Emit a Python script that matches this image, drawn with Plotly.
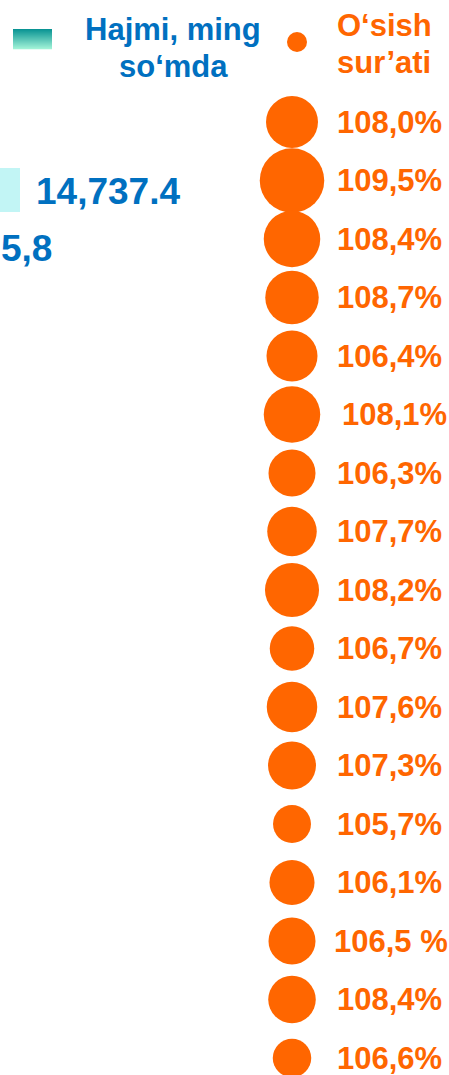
import plotly.graph_objects as go

# ---------------- data ----------------
growth_labels = ["108,0%", "109,5%", "108,4%", "108,7%", "106,4%", "108,1%",
                 "106,3%", "107,7%", "108,2%", "106,7%", "107,6%", "107,3%",
                 "105,7%", "106,1%", "106,5 %", "108,4%", "106,6%"]
growth_pct = [108.0, 109.5, 108.4, 108.7, 106.4, 108.1, 106.3, 107.7, 108.2,
              106.7, 107.6, 107.3, 105.7, 106.1, 106.5, 108.4, 106.6]
# relative volume encoded by bubble area
volume_index = [27.0, 41.6, 31.9, 28.6, 26.0, 31.9, 22.1, 24.5, 29.2,
                19.8, 25.5, 23.0, 14.4, 20.3, 22.1, 22.6, 14.8]
bar_value = [14737.4]
bar_label = ["14,737.4"]
partial_label = "5,8"
legend_volume = "Hajmi, ming"
legend_volume2 = "so‘mda"
legend_growth = "O‘sish"
legend_growth2 = "sur’ati"

# ---------------- style ----------------
ORANGE = "#FF6600"
BLUE = "#0070C0"
FONT = "Liberation Sans, Arial, sans-serif"
W, H = 449, 1075
ROW0_PX, ROW_PX = 122, 58.5          # pixel centre of first row, row pitch
BUBBLE_X = 292
LABEL_X = 335
label_nudge = {5: 5, 14: -3}        # small horizontal offsets seen in the source

rows = list(range(len(growth_labels)))
y_top = -ROW0_PX / ROW_PX
y_bot = y_top + H / ROW_PX


def row_of(px):
    return (px - ROW0_PX) / ROW_PX


def py(px):  # pixel -> paper
    return 1 - px / H


fig = go.Figure()

# bubbles
fig.add_trace(go.Scatter(
    x=[BUBBLE_X] * len(rows), y=rows, mode="markers",
    marker=dict(size=volume_index, sizemode="area", sizeref=0.02,
                color=ORANGE, line=dict(width=0), opacity=1),
    customdata=growth_pct, hoverinfo="skip", showlegend=False,
    cliponaxis=False))

# cropped bar of the left chart (value end at ~20 px)
px_per_unit = 1 / 100.0
x2_lo = bar_value[0] - 20 / px_per_unit
x2_hi = x2_lo + W / px_per_unit
fig.add_trace(go.Bar(
    x=bar_value, y=[row_of(190)], orientation="h", width=44 / ROW_PX,
    marker=dict(color="#C2F5F5", line=dict(width=0)),
    xaxis="x2", yaxis="y", showlegend=False, hoverinfo="skip"))

# growth labels
for r, lab in zip(rows, growth_labels):
    fig.add_annotation(x=LABEL_X, y=r, xref="x", yref="y", text=lab,
                       xshift=label_nudge.get(r, 0),
                       showarrow=False, xanchor="left", yanchor="middle",
                       font=dict(family=FONT, size=31, color=ORANGE, weight="bold"))

# bar value label and partial label
fig.add_annotation(x=34, y=py(191), xref="x", yref="paper", text=bar_label[0],
                   showarrow=False, xanchor="left", yanchor="middle",
                   font=dict(family=FONT, size=37, color=BLUE, weight="bold"))
fig.add_annotation(x=-0.003, y=py(248), xref="paper", yref="paper", text=partial_label,
                   showarrow=False, xanchor="left", yanchor="middle",
                   font=dict(family=FONT, size=37, color=BLUE, weight="bold"))

# legend: teal gradient rectangle (top dark teal -> bottom pale mint)
top_rgb, bot_rgb = (10, 148, 148), (160, 242, 214)
n_strips = 20
y0, y1 = 29, 49
step = (y1 - y0) / n_strips
for i in range(n_strips):
    t = i / (n_strips - 1)
    c = tuple(round(a + (b - a) * t) for a, b in zip(top_rgb, bot_rgb))
    fig.add_shape(type="rect", xref="x", yref="paper", x0=13, x1=52,
                  y0=py(y0 + i * step), y1=py(y0 + (i + 1) * step + 0.3),
                  fillcolor="rgb(%d,%d,%d)" % c, line=dict(width=0), layer="above")
fig.add_annotation(x=173, y=py(29), xref="x", yref="paper", text=legend_volume,
                   showarrow=False, xanchor="center", yanchor="middle",
                   font=dict(family=FONT, size=31, color=BLUE, weight="bold"))
fig.add_annotation(x=173, y=py(66), xref="x", yref="paper", text=legend_volume2,
                   showarrow=False, xanchor="center", yanchor="middle",
                   font=dict(family=FONT, size=31, color=BLUE, weight="bold"))

# legend: orange dot
fig.add_shape(type="circle", xref="x", yref="paper", x0=287, x1=307,
              y0=py(32), y1=py(52), fillcolor=ORANGE, line=dict(width=0))
fig.add_annotation(x=LABEL_X, y=py(25), xref="x", yref="paper", text=legend_growth,
                   showarrow=False, xanchor="left", yanchor="middle",
                   font=dict(family=FONT, size=31, color=ORANGE, weight="bold"))
fig.add_annotation(x=LABEL_X, y=py(63), xref="x", yref="paper", text=legend_growth2,
                   showarrow=False, xanchor="left", yanchor="middle",
                   font=dict(family=FONT, size=31, color=ORANGE, weight="bold"))

hidden = dict(visible=False, showgrid=False, zeroline=False, fixedrange=True)
fig.update_layout(
    width=W, height=H, margin=dict(l=0, r=0, t=0, b=0),
    paper_bgcolor="white", plot_bgcolor="white",
    xaxis=dict(range=[0, W], domain=[0, 1], **hidden),
    xaxis2=dict(range=[x2_lo, x2_hi], overlaying="x", anchor="y", **hidden),
    yaxis=dict(range=[y_bot, y_top], domain=[0, 1], **hidden),
    showlegend=False,
)

fig.write_html(
    "out.html",
    config={"displayModeBar": False},
    post_script="document.body.style.margin='0';document.body.style.overflow='hidden';",
)
